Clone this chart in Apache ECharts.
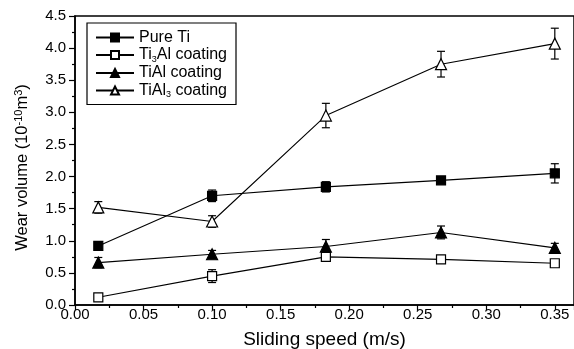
<!DOCTYPE html>
<html><head><meta charset="utf-8">
<script src="https://cdn.jsdelivr.net/npm/echarts@6/dist/echarts.min.js"></script>
<style>html,body{margin:0;padding:0;background:#fff}#c{width:574px;height:349px}</style>
</head><body><div id="c"></div>
<script>
const speeds = [0.017, 0.100, 0.183, 0.267, 0.350];
const seriesNames = ['Pure Ti', 'Ti3Al coating', 'TiAl coating', 'TiAl3 coating'];
const pureTi = [0.92, 1.70, 1.84, 1.94, 2.05];
const pureTiErr = [0.03, 0.09, 0.08, 0.03, 0.15];
const ti3Al = [0.12, 0.45, 0.75, 0.71, 0.65];
const ti3AlErr = [0.03, 0.10, 0.03, 0.02, 0.03];
const tiAl = [0.66, 0.79, 0.91, 1.13, 0.89];
const tiAlErr = [0.08, 0.06, 0.11, 0.10, 0.07];
const tiAl3 = [1.52, 1.30, 2.95, 3.75, 4.07];
const tiAl3Err = [0.09, 0.09, 0.19, 0.20, 0.24];
const xTicks = [0.00, 0.05, 0.10, 0.15, 0.20, 0.25, 0.30, 0.35];
const yTicks = [0.0, 0.5, 1.0, 1.5, 2.0, 2.5, 3.0, 3.5, 4.0, 4.5];

const F = '"Liberation Sans", Arial, sans-serif';
const values = [pureTi, ti3Al, tiAl, tiAl3];
const errs = [pureTiErr, ti3AlErr, tiAlErr, tiAl3Err];
const symbols = ['rect', 'rect', 'triangle', 'triangle'];
const filled = [true, false, true, false];

const series = [];
values.forEach((vals, i) => {
  series.push({
    type: 'custom',
    name: seriesNames[i] + '_err',
    data: vals.map((v, j) => [speeds[j], v - errs[i][j], v + errs[i][j]]),
    z: 1,
    silent: true,
    renderItem: function (params, api) {
      const lo = api.coord([api.value(0), api.value(1)]);
      const hi = api.coord([api.value(0), api.value(2)]);
      const w = 4;
      const st = { stroke: '#000', lineWidth: 1.2 };
      return { type: 'group', children: [
        { type: 'line', shape: { x1: lo[0], y1: lo[1], x2: hi[0], y2: hi[1] }, style: st },
        { type: 'line', shape: { x1: lo[0] - w, y1: lo[1], x2: lo[0] + w, y2: lo[1] }, style: st },
        { type: 'line', shape: { x1: hi[0] - w, y1: hi[1], x2: hi[0] + w, y2: hi[1] }, style: st }
      ]};
    }
  });
  series.push({
    type: 'line',
    name: seriesNames[i],
    data: vals.map((v, j) => [speeds[j], v]),
    symbol: symbols[i],
    symbolSize: symbols[i] === 'rect' ? 9 : 11,
    showAllSymbol: true,
    z: 3,
    lineStyle: { color: '#000', width: 1.1 },
    itemStyle: { color: filled[i] ? '#000' : '#fff', borderColor: '#000', borderWidth: 1.2 }
  });
});

const legendFmt = {
  'Pure Ti': '{n|Pure Ti}',
  'Ti3Al coating': '{n|Ti}{s|3}{n|Al coating}',
  'TiAl coating': '{n|TiAl coating}',
  'TiAl3 coating': '{n|TiAl}{s|3}{n| coating}'
};

const chart = echarts.init(document.getElementById('c'), null, { renderer: 'canvas' });
chart.setOption({
  animation: false,
  backgroundColor: '#fff',
  grid: { left: 75, right: 0, top: 16, bottom: 44, containLabel: false, outerBoundsMode: 'none',
    show: true, borderColor: '#000', borderWidth: 1.5, backgroundColor: 'transparent' },
  legend: {
    data: seriesNames,
    orient: 'vertical',
    left: 87, top: 23,
    padding: [6, 9, 5, 8],
    itemGap: 0.5,
    itemWidth: 38, itemHeight: 10,
    borderColor: '#000', borderWidth: 1.2,
    backgroundColor: '#fff',
    formatter: n => legendFmt[n],
    textStyle: {
      fontFamily: F, fontSize: 16, color: '#000', lineHeight: 17,
      rich: {
        n: { fontFamily: F, fontSize: 16, color: '#000', lineHeight: 17 },
        s: { fontFamily: F, fontSize: 9, color: '#000', padding: [9, 0, 0, 0] }
      }
    }
  },
  xAxis: {
    type: 'value', min: 0, max: 0.364, interval: 0.05,
    name: 'Sliding speed (m/s)', nameLocation: 'middle', nameGap: 25,
    nameTextStyle: { fontFamily: F, fontSize: 19, color: '#000' },
    axisLine: { lineStyle: { color: '#000', width: 1.5 } },
    axisTick: { show: true, inside: false, length: 5, lineStyle: { color: '#000', width: 1.2 } },
    minorTick: { show: true, splitNumber: 2, length: 3, lineStyle: { color: '#000', width: 1.2 } },
    splitLine: { show: false },
    axisLabel: { fontFamily: F, fontSize: 15, color: '#000', margin: 2, showMaxLabel: false,
      formatter: v => xTicks.some(t => Math.abs(t - v) < 1e-9) ? v.toFixed(2) : '' }
  },
  yAxis: {
    type: 'value', min: 0, max: 4.5, interval: 0.5,
    name: 'Wear volume (10{sup|-10}m{sup|3})', nameLocation: 'middle', nameGap: 44, nameRotate: 90,
    nameTextStyle: { fontFamily: F, fontSize: 16.5, color: '#000', padding: [0, 14, 0, 0],
      rich: { sup: { fontFamily: F, fontSize: 11, color: '#000', padding: [0, 0, 7, 0] } } },
    axisLine: { lineStyle: { color: '#000', width: 1.5 } },
    axisTick: { show: true, inside: false, length: 6, lineStyle: { color: '#000', width: 1.2 } },
    minorTick: { show: true, splitNumber: 2, length: 3, lineStyle: { color: '#000', width: 1.2 } },
    splitLine: { show: false },
    axisLabel: { fontFamily: F, fontSize: 15, color: '#000', margin: 9,
      formatter: v => yTicks.some(t => Math.abs(t - v) < 1e-9) ? v.toFixed(1) : '' }
  },
  series: series
});
</script></body></html>
